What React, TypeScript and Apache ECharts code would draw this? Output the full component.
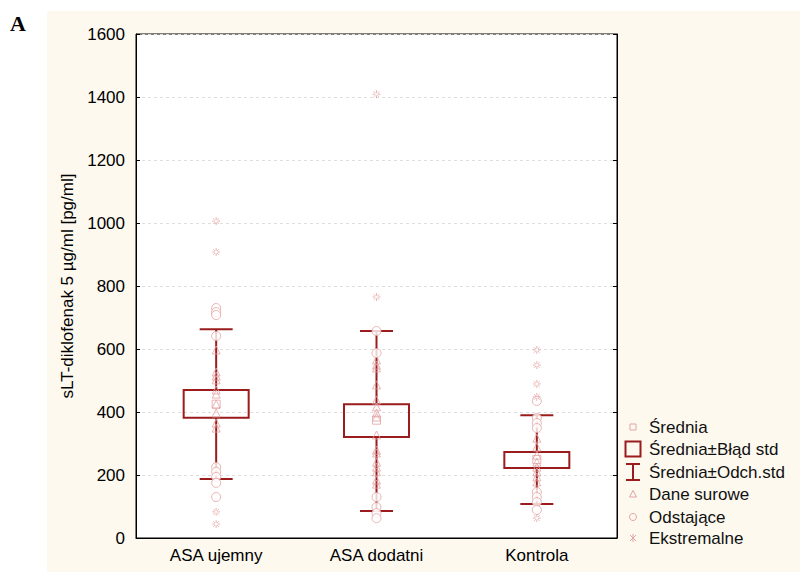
import React, { useEffect, useRef } from "react";
import * as echarts from "echarts";

const categories = ["ASA ujemny", "ASA dodatni", "Kontrola"];
const meanValues = [425, 374, 249];
const seLow = [382, 321, 222];
const seHigh = [470, 425, 273];
const sdLow = [187, 86, 108];
const sdHigh = [663, 657, 390];

const rawUjemny = [597, 527, 514, 502, 470, 457, 425, 397, 365, 349];
const rawDodatni = [565, 549, 540, 486, 438, 416, 397, 384, 327, 279, 270, 241, 225, 210, 184, 171];
const rawKontrola = [317, 289, 263, 241, 225, 210, 194, 178];
const outUjemny = [730, 717, 708, 641, 225, 210, 194, 175, 130];
const outDodatni = [657, 587, 130, 98, 79, 63];
const outKontrola = [435, 381, 365, 349, 146, 130, 114, 89];
const extUjemny = [1006, 908, 83, 44];
const extDodatni = [1409, 765];
const extKontrola = [597, 549, 489, 448, 63];

const legendLabels = [
  "Średnia",
  "Średnia±Błąd std",
  "Średnia±Odch.std",
  "Dane surowe",
  "Odstające",
  "Ekstremalne",
];

const DARK = "#9a1c1c";
const PINK = "#e3a3a3";
const FONT = "'Liberation Sans', Arial, sans-serif";
const STAR = "path://M5,0L5,3.5M5,6.5L5,10M0,5L3.5,5M6.5,5L10,5M1.5,1.5L3.8,3.8M6.2,6.2L8.5,8.5M1.5,8.5L3.8,6.2M6.2,3.8L8.5,1.5";

function toPts(groups: number[][]) {
  const out: [number, number][] = [];
  groups.forEach((g, i) => g.forEach((v) => out.push([i, v])));
  return out;
}

export default function App() {
  const ref = useRef<HTMLDivElement>(null);
  useEffect(() => {
    if (!ref.current) return;
    const chart = echarts.init(ref.current, null, { renderer: "svg" });
    const lx = 633;
    const tx = 649;
    const rows = [427, 449, 472, 494, 517, 538];
    const legendGraphics: any[] = [
      { type: "rect", shape: { x: lx - 3, y: rows[0] - 3, width: 6, height: 6 }, style: { fill: "none", stroke: PINK, lineWidth: 1 } },
      { type: "rect", shape: { x: lx - 7.5, y: rows[1] - 7.5, width: 15, height: 15 }, style: { fill: "none", stroke: DARK, lineWidth: 2 } },
      { type: "line", shape: { x1: lx, y1: rows[2] - 8, x2: lx, y2: rows[2] + 8 }, style: { stroke: DARK, lineWidth: 2 } },
      { type: "line", shape: { x1: lx - 7, y1: rows[2] - 8, x2: lx + 7, y2: rows[2] - 8 }, style: { stroke: DARK, lineWidth: 2 } },
      { type: "line", shape: { x1: lx - 7, y1: rows[2] + 8, x2: lx + 7, y2: rows[2] + 8 }, style: { stroke: DARK, lineWidth: 2 } },
      { type: "polygon", shape: { points: [[lx, rows[3] - 3.5], [lx + 3.5, rows[3] + 3], [lx - 3.5, rows[3] + 3]] }, style: { fill: "none", stroke: PINK, lineWidth: 1 } },
      { type: "circle", shape: { cx: lx, cy: rows[4], r: 3.5 }, style: { fill: "none", stroke: PINK, lineWidth: 1 } },
      { type: "line", shape: { x1: lx, y1: rows[5] - 4, x2: lx, y2: rows[5] + 4 }, style: { stroke: PINK, lineWidth: 1 } },
      { type: "line", shape: { x1: lx - 3, y1: rows[5] - 3, x2: lx + 3, y2: rows[5] + 3 }, style: { stroke: PINK, lineWidth: 1 } },
      { type: "line", shape: { x1: lx - 3, y1: rows[5] + 3, x2: lx + 3, y2: rows[5] - 3 }, style: { stroke: PINK, lineWidth: 1 } },
    ];
    legendLabels.forEach((t, i) => {
      legendGraphics.push({
        type: "text",
        x: tx,
        y: rows[i],
        style: { text: t, fill: "#111", font: `17px ${FONT}`, textVerticalAlign: "middle" },
      });
    });
    legendGraphics.push({
      type: "text",
      x: 10,
      y: 12,
      style: { text: "A", fill: "#000", font: "bold 22px 'Liberation Serif', serif" },
    });

    chart.setOption({
      animation: false,
      backgroundColor: "transparent",
      grid: {
        left: 136,
        right: 183,
        top: 34,
        bottom: 34,
        show: true,
        backgroundColor: "#fff",
        borderColor: "#000",
        borderWidth: 1,
      },
      xAxis: {
        type: "category",
        data: categories,
        boundaryGap: true,
        axisLine: { lineStyle: { color: "#000", width: 1 } },
        axisTick: { alignWithLabel: true, inside: true, length: 4, lineStyle: { color: "#000" } },
        axisLabel: { color: "#000", fontSize: 17, fontFamily: FONT, margin: 9 },
        splitLine: { show: false },
      },
      yAxis: [
        {
          type: "value",
          min: 0,
          max: 1600,
          interval: 200,
          name: "sLT-diklofenak 5 µg/ml [pg/ml]",
          nameLocation: "middle",
          nameGap: 60,
          nameTextStyle: { color: "#000", fontSize: 17, fontFamily: FONT },
          axisLine: { show: true, lineStyle: { color: "#000" } },
          axisTick: { show: true, inside: true, length: 4, lineStyle: { color: "#000" } },
          axisLabel: { color: "#000", fontSize: 17, fontFamily: FONT, margin: 11, formatter: (v: number) => String(v) },
          splitLine: { show: true, lineStyle: { color: "#dedede", type: [3, 3], width: 1 } },
        },
        {
          type: "value",
          position: "right",
          min: 0,
          max: 1600,
          interval: 200,
          axisLine: { show: true, lineStyle: { color: "#000" } },
          axisTick: { show: true, inside: true, length: 4, lineStyle: { color: "#000" } },
          axisLabel: { show: false },
          splitLine: { show: false },
        },
      ],
      graphic: legendGraphics,
      series: [
        {
          name: "Średnia±Odch.std",
          type: "custom",
          data: categories.map((_, i) => [i, sdLow[i], sdHigh[i], seLow[i], seHigh[i]]),
          renderItem: (params: any, api: any) => {
            const i = api.value(0);
            const pLo = api.coord([i, api.value(1)]);
            const pHi = api.coord([i, api.value(2)]);
            const bLo = api.coord([i, api.value(3)]);
            const bHi = api.coord([i, api.value(4)]);
            const x = pLo[0];
            const cw = 16.5;
            const st = { stroke: DARK, lineWidth: 2 };
            return {
              type: "group",
              children: [
                { type: "line", shape: { x1: x, y1: pHi[1], x2: x, y2: bHi[1] }, style: st },
                { type: "line", shape: { x1: x, y1: bLo[1], x2: x, y2: pLo[1] }, style: st },
                { type: "line", shape: { x1: x - cw, y1: pHi[1], x2: x + cw, y2: pHi[1] }, style: st },
                { type: "line", shape: { x1: x - cw, y1: pLo[1], x2: x + cw, y2: pLo[1] }, style: st },
              ],
            };
          },
          z: 2,
        },
        {
          name: "Średnia±Błąd std",
          type: "custom",
          data: categories.map((_, i) => [i, seLow[i], seHigh[i]]),
          renderItem: (params: any, api: any) => {
            const i = api.value(0);
            const lo = api.coord([i, api.value(1)]);
            const hi = api.coord([i, api.value(2)]);
            const w = 65;
            return {
              type: "rect",
              shape: { x: lo[0] - w / 2, y: hi[1], width: w, height: lo[1] - hi[1] },
              style: { fill: "none", stroke: DARK, lineWidth: 2 },
            };
          },
          z: 2,
        },
        {
          name: "Dane surowe",
          type: "scatter",
          data: toPts([rawUjemny, rawDodatni, rawKontrola]),
          symbol: "triangle",
          symbolSize: 8,
          itemStyle: { color: "transparent", borderColor: PINK, borderWidth: 1 },
          z: 3,
        },
        {
          name: "Odstające",
          type: "scatter",
          data: toPts([outUjemny, outDodatni, outKontrola]),
          symbol: "circle",
          symbolSize: 9,
          itemStyle: { color: "#fff", borderColor: PINK, borderWidth: 1 },
          z: 3,
        },
        {
          name: "Ekstremalne",
          type: "scatter",
          data: toPts([extUjemny, extDodatni, extKontrola]),
          symbol: STAR,
          symbolSize: 8,
          itemStyle: { color: "transparent", borderColor: PINK, borderWidth: 1 },
          z: 3,
        },
        {
          name: "Średnia",
          type: "scatter",
          data: meanValues.map((v, i) => [i, v]),
          symbol: "rect",
          symbolSize: 8,
          itemStyle: { color: "transparent", borderColor: PINK, borderWidth: 1 },
          z: 4,
        },
      ],
    });
    return () => chart.dispose();
  }, []);

  return (
    <div style={{ position: "fixed", left: 0, top: 0, width: 800, height: 572, background: "#fff" }}>
      <div style={{ position: "absolute", left: 47, top: 11, right: 0, bottom: 0, background: "#fdf9ef" }} />
      <div ref={ref} style={{ position: "absolute", left: 0, top: 0, width: 800, height: 572 }} />
    </div>
  );
}
